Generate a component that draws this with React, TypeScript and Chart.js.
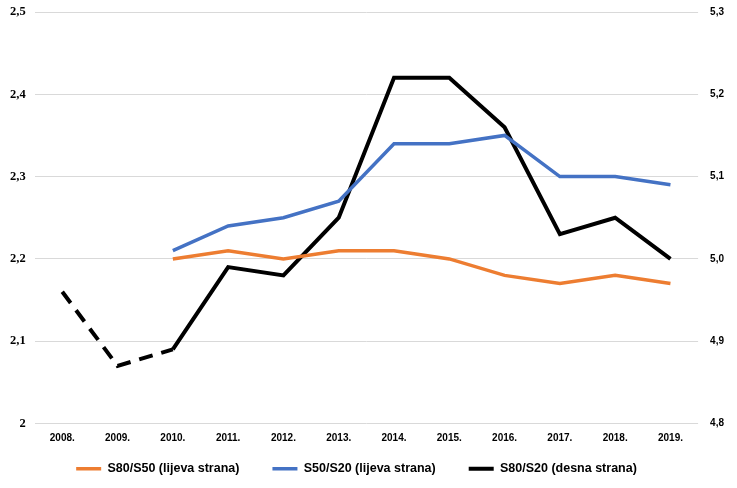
import { useEffect, useRef } from 'react'
import { Chart, registerables } from 'chart.js'

Chart.register(...registerables)

const years = ['2008.', '2009.', '2010.', '2011.', '2012.', '2013.', '2014.', '2015.', '2016.', '2017.', '2018.', '2019.']
const s80s50 = [null, null, 2.20, 2.21, 2.20, 2.21, 2.21, 2.20, 2.18, 2.17, 2.18, 2.17]
const s50s20 = [null, null, 2.21, 2.24, 2.25, 2.27, 2.34, 2.34, 2.35, 2.30, 2.30, 2.29]
const s80s20 = [4.96, 4.87, 4.89, 4.99, 4.98, 5.05, 5.22, 5.22, 5.16, 5.03, 5.05, 5.00]

// legend padding gives the wide gaps between items; pull its text up and left a bit
const legendShift = {
  id: 'legendShift',
  afterLayout(chart:any){
    const lg = chart.legend
    if(!lg) return
    lg.top -= 24
    lg.bottom -= 24
    lg.left -= 12
    lg.right -= 12
  }
}

const noTopPad = (s:any)=>{ s.paddingTop = 0 }

export default function App(){
  const ref = useRef<HTMLCanvasElement|null>(null)
  useEffect(()=>{
    if(!ref.current) return
    const chart = new Chart(ref.current, {
      type: 'line',
      data: {
        labels: years,
        datasets: [
          { label:'S80/S50 (lijeva strana)', data: s80s50, borderColor:'#ed7d31', backgroundColor:'#ed7d31', borderWidth:3.5, pointRadius:0, yAxisID:'y' },
          { label:'S50/S20 (lijeva strana)', data: s50s20, borderColor:'#4472c4', backgroundColor:'#4472c4', borderWidth:3.5, pointRadius:0, yAxisID:'y' },
          { label:'S80/S20 (desna strana)', data: s80s20, borderColor:'#000000', backgroundColor:'#000000', borderWidth:4, pointRadius:0, yAxisID:'y1',
            segment: { borderDash: (c:any)=> c.p1DataIndex <= 2 ? [14, 9] : undefined } },
        ]
      },
      options: {
        animation:false, responsive:true, maintainAspectRatio:false,
        layout: { padding: { left: 1, right: 1, top: 12, bottom: -21 } },
        plugins: {
          legend: { position:'bottom', labels: { usePointStyle:true, pointStyle:'line', pointStyleWidth:25, padding:33, color:'#000',
            font:{ family:'Liberation Sans', size:12.5, weight:'bold' } } },
          tooltip: { enabled:false }
        },
        scales: {
          x: { offset:true, grid:{ display:false, drawTicks:false }, border:{ display:false },
            ticks:{ color:'#000', font:{ family:'Liberation Sans', size:10, weight:'bold' }, padding:9 } },
          y: { position:'left', min:2, max:2.5, border:{ display:false }, afterFit: noTopPad,
            grid:{ color:'#d9d9d9', drawTicks:false },
            ticks:{ stepSize:0.1, padding:9, color:'#000', font:{ family:'Liberation Serif', size:12.5, weight:'bold' },
              callback:(v:any)=> String(Math.round(v*10)/10).replace('.', ',') } },
          y1: { position:'right', min:4.8, max:5.3, border:{ display:false }, afterFit: noTopPad,
            grid:{ display:false, drawTicks:false },
            ticks:{ stepSize:0.1, padding:12, color:'#000', font:{ family:'Liberation Sans', size:10, weight:'bold' },
              callback:(v:any)=> Number(v).toFixed(1).replace('.', ',') } },
        }
      },
      plugins: [legendShift]
    })
    return ()=> chart.destroy()
  }, [])
  return <div style={{ position:'absolute', left:0, top:0, width:737, height:488, background:'#fff' }}><canvas ref={ref}/></div>
}
